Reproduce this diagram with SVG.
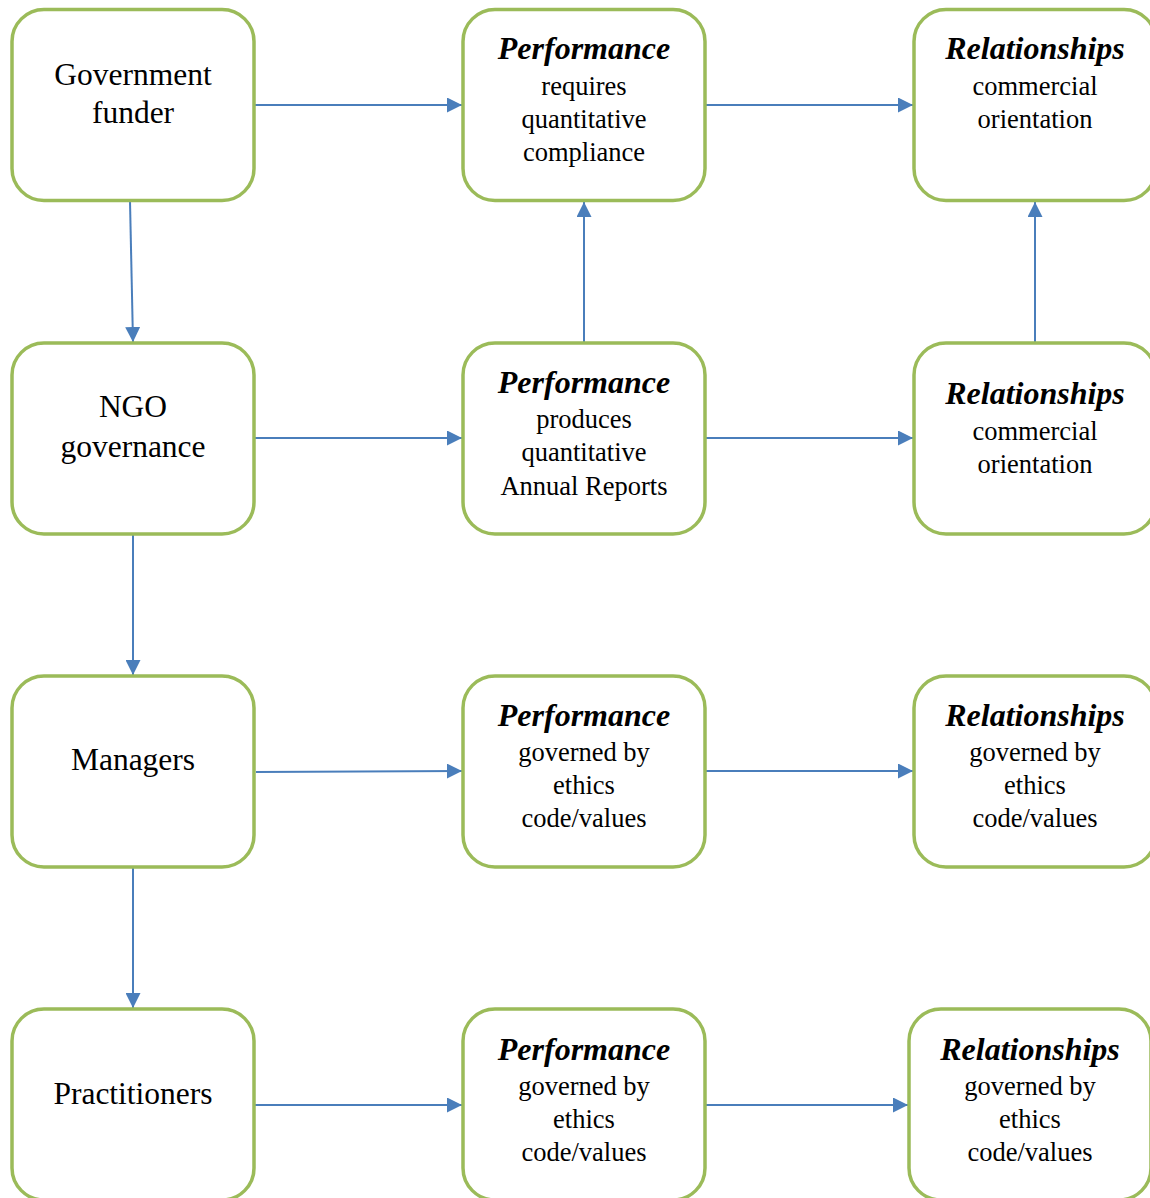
<svg xmlns="http://www.w3.org/2000/svg" width="1150" height="1198" viewBox="0 0 1150 1198">
  <style>
    .box { fill: #ffffff; stroke: #9BBB59; stroke-width: 3.5; }
    .t { font-family: "Liberation Serif", "Times New Roman", serif; fill: #000; text-anchor: middle; }
    .big { font-size: 31.5px; }
    .head { font-size: 32px; font-weight: bold; font-style: italic; }
    .sub { font-size: 26.5px; }
    .link { stroke: #4A7EBB; stroke-width: 2; fill: none; marker-end: url(#arrow); }
  </style>
  <defs>
    <marker id="arrow" markerWidth="15" markerHeight="15" refX="15" refY="7.5" orient="auto" markerUnits="userSpaceOnUse">
      <path d="M0,0 L15,7.5 L0,15 Z" fill="#4A7EBB"/>
    </marker>
  </defs>
  <rect width="1150" height="1198" fill="#ffffff"/>

  <!-- connectors -->
  <g id="connectors">
    <line class="link" x1="255" y1="105" x2="462" y2="105"/>
    <line class="link" x1="706" y1="105" x2="913" y2="105"/>
    <line class="link" x1="130" y1="201" x2="133" y2="342"/>
    <line class="link" x1="584" y1="342" x2="584" y2="202"/>
    <line class="link" x1="1035" y1="342" x2="1035" y2="202"/>
    <line class="link" x1="255" y1="438" x2="462" y2="438"/>
    <line class="link" x1="706" y1="438" x2="913" y2="438"/>
    <line class="link" x1="133" y1="534" x2="133" y2="675"/>
    <line class="link" x1="256" y1="772" x2="462" y2="771"/>
    <line class="link" x1="706" y1="771" x2="913" y2="771"/>
    <line class="link" x1="133" y1="867" x2="133" y2="1008"/>
    <line class="link" x1="255" y1="1105" x2="462" y2="1105"/>
    <line class="link" x1="706" y1="1105" x2="908" y2="1105"/>
  </g>

  <!-- row 1 -->
  <g id="gov-funder">
    <rect class="box" x="12" y="9.5" width="242" height="191" rx="32"/>
    <text class="t big" x="133" y="85">Government</text>
    <text class="t big" x="133" y="123">funder</text>
  </g>
  <g id="perf-requires">
    <rect class="box" x="463" y="9.5" width="242" height="191" rx="32"/>
    <text class="t head" x="584" y="59">Performance</text>
    <text class="t sub" x="584" y="95">requires</text>
    <text class="t sub" x="584" y="128">quantitative</text>
    <text class="t sub" x="584" y="161">compliance</text>
  </g>
  <g id="rel-commercial-1">
    <rect class="box" x="914" y="9.5" width="242" height="191" rx="32"/>
    <text class="t head" x="1035" y="59">Relationships</text>
    <text class="t sub" x="1035" y="95">commercial</text>
    <text class="t sub" x="1035" y="128">orientation</text>
  </g>

  <!-- row 2 -->
  <g id="ngo-governance">
    <rect class="box" x="12" y="343" width="242" height="191" rx="32"/>
    <text class="t big" x="133" y="417">NGO</text>
    <text class="t big" x="133" y="457">governance</text>
  </g>
  <g id="perf-produces">
    <rect class="box" x="463" y="343" width="242" height="191" rx="32"/>
    <text class="t head" x="584" y="393">Performance</text>
    <text class="t sub" x="584" y="428">produces</text>
    <text class="t sub" x="584" y="461">quantitative</text>
    <text class="t sub" x="584" y="495">Annual Reports</text>
  </g>
  <g id="rel-commercial-2">
    <rect class="box" x="914" y="343" width="242" height="191" rx="32"/>
    <text class="t head" x="1035" y="404">Relationships</text>
    <text class="t sub" x="1035" y="440">commercial</text>
    <text class="t sub" x="1035" y="473">orientation</text>
  </g>

  <!-- row 3 -->
  <g id="managers">
    <rect class="box" x="12" y="676" width="242" height="191" rx="32"/>
    <text class="t big" x="133" y="770">Managers</text>
  </g>
  <g id="perf-ethics-1">
    <rect class="box" x="463" y="676" width="242" height="191" rx="32"/>
    <text class="t head" x="584" y="726">Performance</text>
    <text class="t sub" x="584" y="761">governed by</text>
    <text class="t sub" x="584" y="794">ethics</text>
    <text class="t sub" x="584" y="827">code/values</text>
  </g>
  <g id="rel-ethics-1">
    <rect class="box" x="914" y="676" width="242" height="191" rx="32"/>
    <text class="t head" x="1035" y="726">Relationships</text>
    <text class="t sub" x="1035" y="761">governed by</text>
    <text class="t sub" x="1035" y="794">ethics</text>
    <text class="t sub" x="1035" y="827">code/values</text>
  </g>

  <!-- row 4 -->
  <g id="practitioners">
    <rect class="box" x="12" y="1009" width="242" height="191" rx="32"/>
    <text class="t big" x="133" y="1104">Practitioners</text>
  </g>
  <g id="perf-ethics-2">
    <rect class="box" x="463" y="1009" width="242" height="191" rx="32"/>
    <text class="t head" x="584" y="1060">Performance</text>
    <text class="t sub" x="584" y="1095">governed by</text>
    <text class="t sub" x="584" y="1128">ethics</text>
    <text class="t sub" x="584" y="1161">code/values</text>
  </g>
  <g id="rel-ethics-2">
    <rect class="box" x="909" y="1009" width="242" height="191" rx="32"/>
    <text class="t head" x="1030" y="1060">Relationships</text>
    <text class="t sub" x="1030" y="1095">governed by</text>
    <text class="t sub" x="1030" y="1128">ethics</text>
    <text class="t sub" x="1030" y="1161">code/values</text>
  </g>
</svg>
